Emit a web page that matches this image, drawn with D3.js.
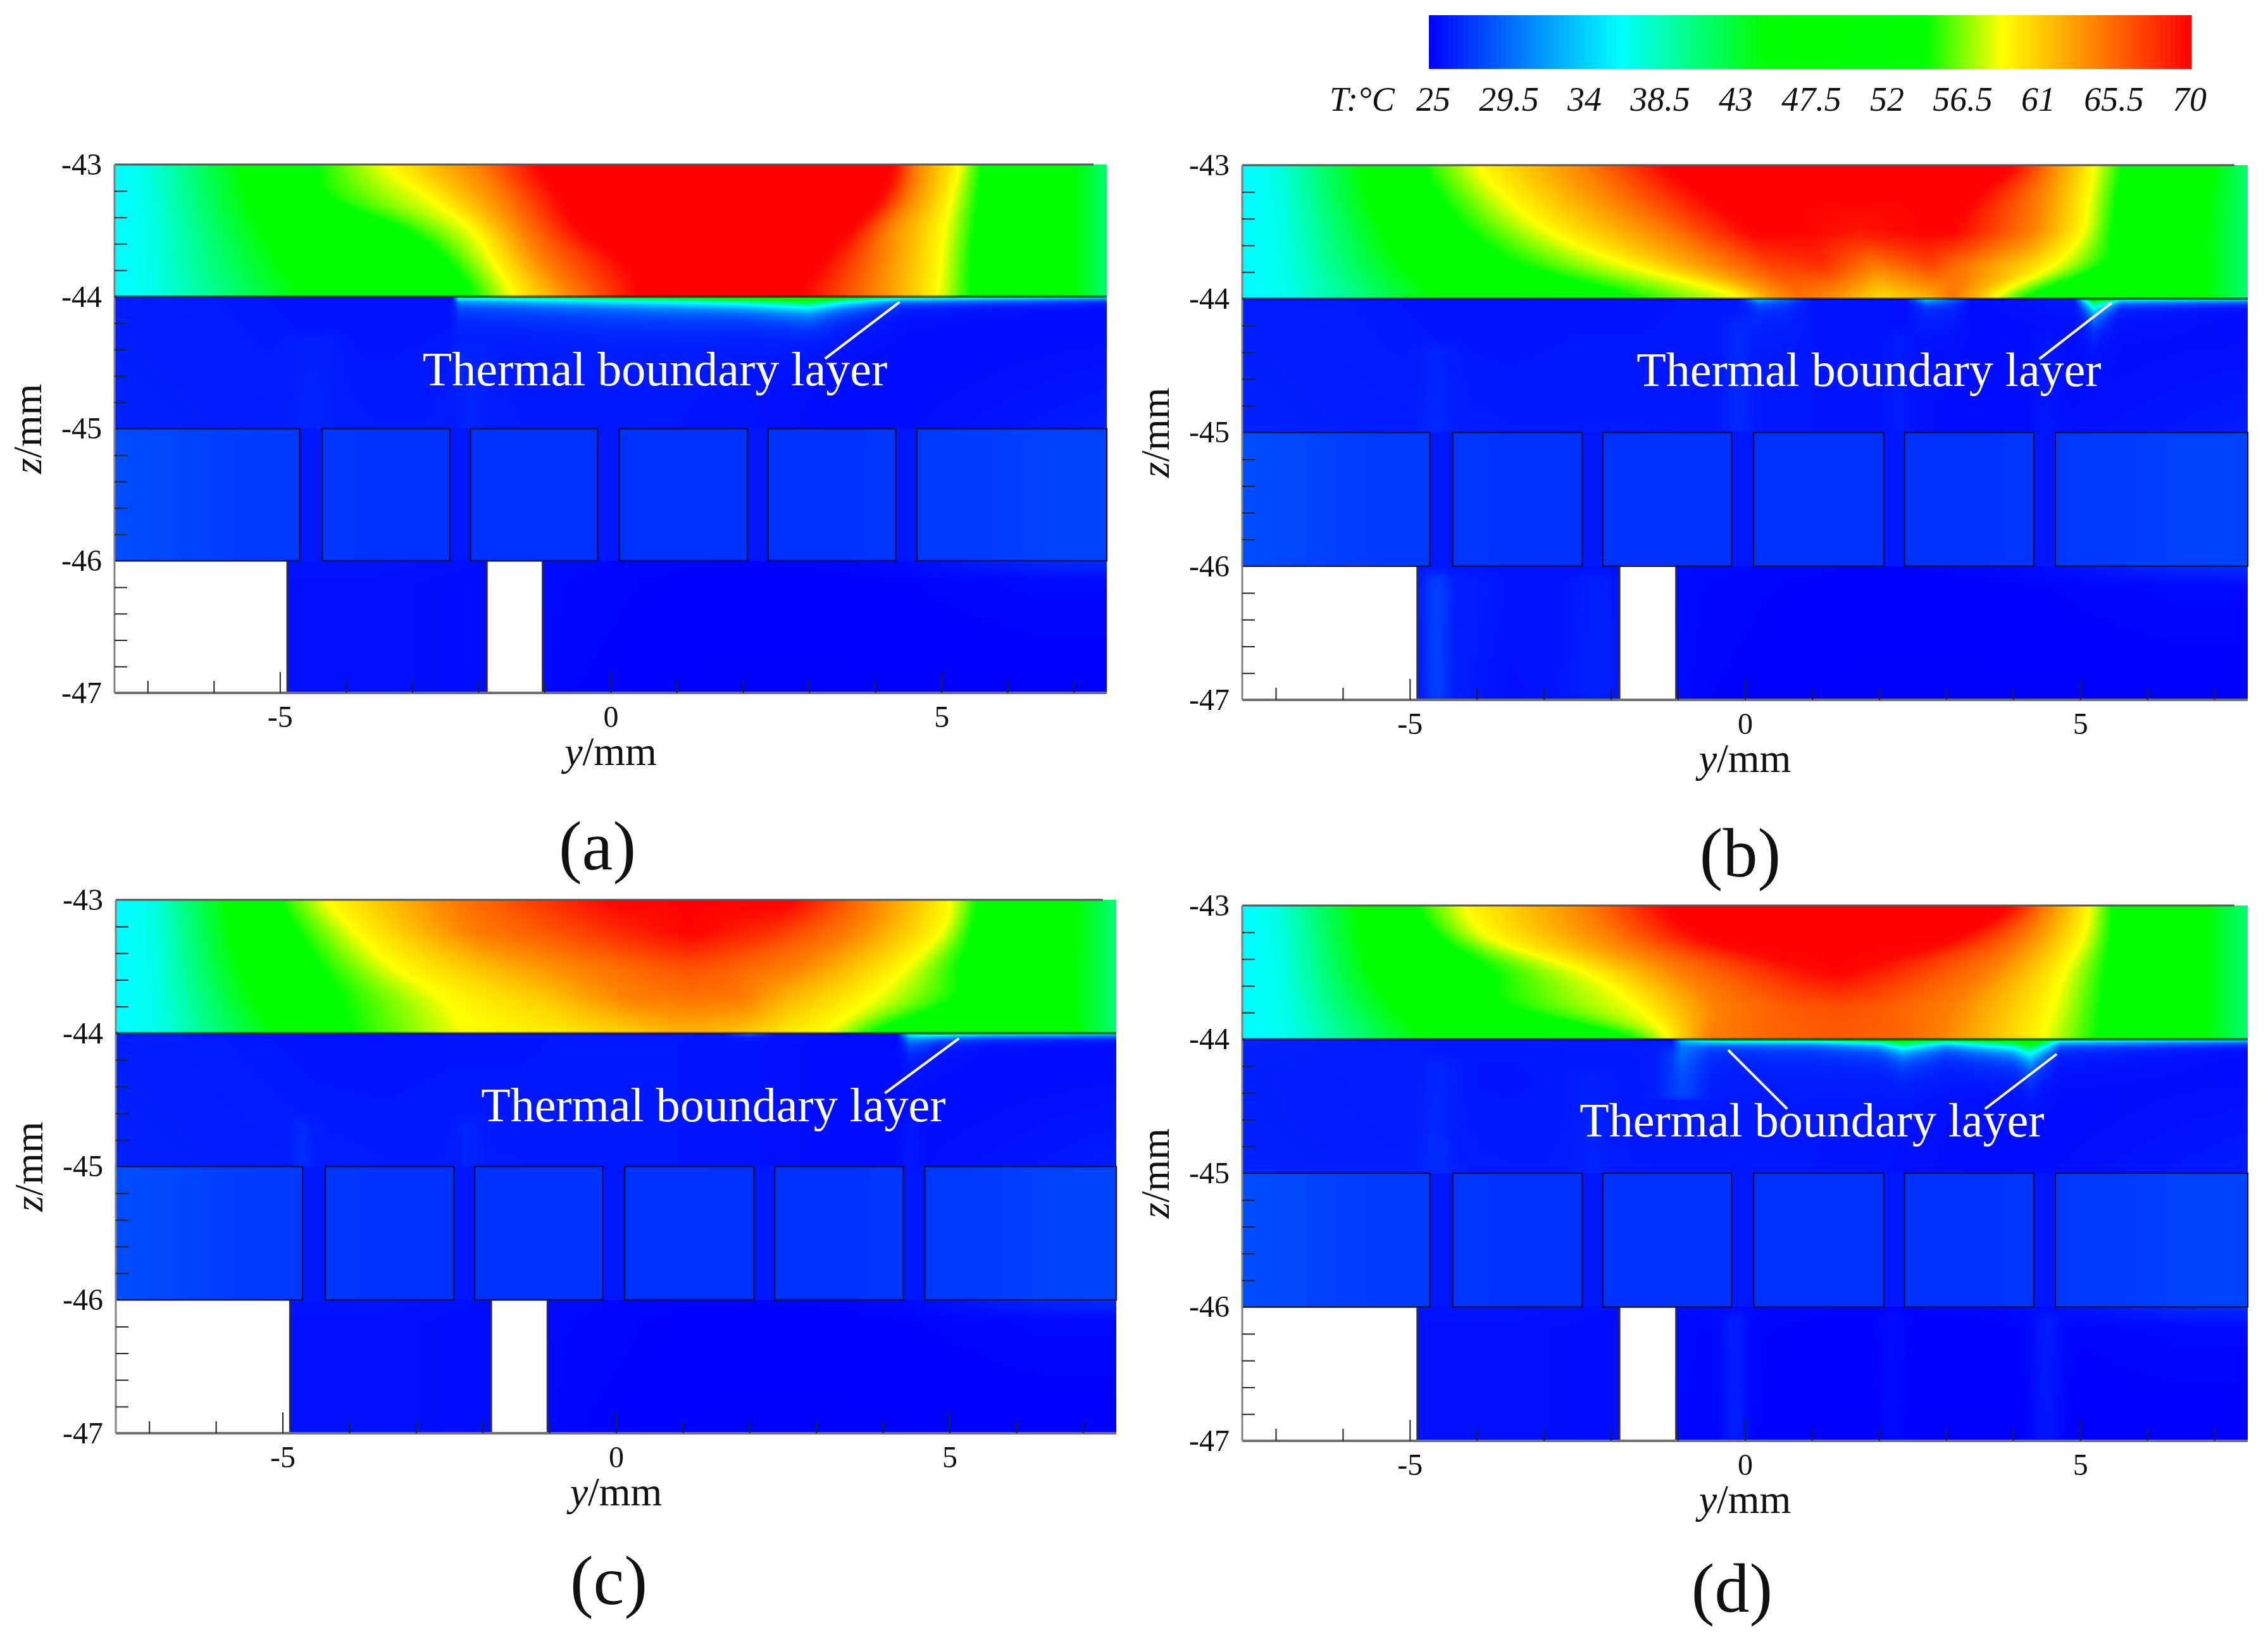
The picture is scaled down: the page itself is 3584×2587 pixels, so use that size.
<!DOCTYPE html>
<html><head><meta charset="utf-8">
<script src="https://cdn.jsdelivr.net/npm/d3@7/dist/d3.min.js"></script>
<style>
html,body{margin:0;padding:0;background:#fff}
canvas,svg{position:absolute;left:0;top:0}
text{font-family:"Liberation Serif",serif;fill:#111}
</style></head><body>
<canvas id="field" width="3584" height="2587"></canvas>
<svg id="chart" width="3584" height="2587"></svg>
<script>
// ---------- values ----------
const legendTicks = [25,29.5,34,38.5,43,47.5,52,56.5,61,65.5,70];
const colorStops  = [25,36.25,44.8,54.25,58.75,70];
const colorValues = ["#0000ff","#00ffff","#00ff00","#00ff00","#ffff00","#ff0000"];
const airRowsZ = [-43,-43.25,-43.5,-43.75,-44];
const yMajor = [-5,0,5];
const yMinor = [-7,-6,-4,-3,-2,-1,1,2,3,4,6,7];
const zMajor = [-43,-44,-45,-46,-47];
const ribEdges = [[-7.5,-4.7],[-4.36,-2.43],[-2.12,-0.2],[0.13,2.07],[2.38,4.31],[4.63,7.5]];
const voids = [[-7.5,-4.89],[-1.87,-1.03]];

// isotherm positions (mm) and temperature on each z row of the upper region
const aIsoY = [
[-7.5,-7.03,-5.6,-4.45,-3.41,-1.98,-1.1,1.21,4.29,4.62,5.27,5.6,7.03,7.5],
[-7.5,-6.98,-5.49,-4.29,-2.75,-1.65,-.77,1.21,4.07,4.51,5.16,5.55,7.03,7.5],
[-7.5,-6.92,-5.27,-3.08,-2.09,-1.32,-.44,1.21,3.63,4.18,5.05,5.49,7.03,7.5],
[-7.5,-6.9,-5,-2.42,-1.76,-.99,.22,1.21,3.19,4.07,5,5.44,7.03,7.5],
[-7.5,-6.87,-4.67,-2.09,-1.48,-.55,.44,1.21,2.86,3.96,4.95,5.44,7.03,7.5]];
const aIsoT = [
[36,37,44.8,54.25,58.75,64.4,70,70,70,64.4,58.75,54.25,44.8,41],
[36,37,44.8,54.25,58.75,64.4,70,70,70,64.4,58.75,54.25,44.8,41],
[36,37,44.8,54.25,58.75,64.4,70,70,70,64.4,58.75,54.25,44.8,41],
[36,37,44.8,54.25,58.75,64.4,70,70,70,64.4,58.75,54.25,44.8,41],
[36,37,44.8,54.25,58.75,64.4,70,70,70,64.4,58.75,54.25,44.8,41]];
const bIsoY = [
[-7.5,-7,-5.71,-4.8,-3.99,-2.38,-1.19,.63,1.71,2.78,4.02,4.56,5.2,5.63,6.98,7.5],
[-7.5,-6.95,-5.6,-4.53,-3.56,-1.95,-.55,.63,1.71,2.78,3.43,4.4,5.13,5.53,6.92,7.5],
[-7.5,-6.89,-5.39,-4.1,-2.91,-1.19,.1,.85,1.71,2.68,3.11,4.29,5.04,5.47,6.87,7.5],
[-7.5,-6.84,-5.12,-3.34,-1.73,-.33,.42,1.17,1.92,2.78,3.32,4.13,4.61,5.31,6.87,7.5],
[-7.5,-6.73,-4.63,-1.62,-.01,.42,.85,1.39,2.03,2.78,3.05,3.43,3.7,4.13,6.87,7.5]];
const bIsoT = [
[36,37,44.8,54.25,58.75,64.4,70,70,70,70,70,64.4,58.75,54.25,44.8,41],
[36,37,44.8,54.25,58.75,64.4,70,70,70,70,70,64.4,58.75,54.25,44.8,41],
[36,37,44.8,54.25,58.75,64.4,70,70,69,70,70,64.4,58.75,54.25,44.8,41],
[36,37,44.8,54.25,58.75,64.4,67,68,64.5,67,64.4,61,58.75,54.25,44.8,41],
[36,37,44.8,54.25,58.75,63,65,63,60,62,65,62,58.75,54.25,44.8,41]];
const cIsoY = [
[-7.5,-6.95,-5.86,-5.04,-4.34,-2.48,-1.39,.02,1.11,2.64,3.83,5.03,5.41,6.88,7.5],
[-7.5,-6.93,-5.77,-4.77,-3.9,-2.16,-1.07,.02,1.11,2.2,3.51,4.87,5.31,6.88,7.5],
[-7.5,-6.9,-5.64,-4.44,-3.36,-1.61,-.52,.57,1.11,1.66,2.75,4.38,5.14,6.88,7.5],
[-7.5,-6.86,-5.42,-4.12,-2.59,-1.07,.24,.78,1.11,1.87,2.53,3.83,5.03,6.88,7.5],
[-7.5,-6.82,-5.15,-4.01,-2.27,-.96,.35,.89,1.33,1.98,2.64,3.18,3.83,6.88,7.5]];
const cIsoT = [
[36,37,44.8,54.25,58.75,64.4,67,70,70,70,64.4,58.75,54.25,44.8,41],
[36,37,44.8,54.25,58.75,64.4,66,68,70,68,64.4,58.75,54.25,44.8,41],
[36,37,44.8,54.25,58.75,62.5,64.4,66,66.5,66,64.4,58.75,54.25,44.8,41],
[36,37,44.8,54.25,58.75,61,64.4,64.6,64.8,64.6,62,58.75,54.25,44.8,41],
[36,37,44.8,54.25,58.75,59.5,61,62,62,61,59.5,58.75,54.25,44.8,41]];
const dIsoY = [
[-7.5,-7,-5.82,-4.9,-4.2,-2.38,-1.19,1.17,3.97,4.51,5.15,5.47,6.87,7.5],
[-7.5,-6.95,-5.73,-4.53,-3.77,-1.95,-.55,1.17,3.11,4.18,5.04,5.45,6.87,7.5],
[-7.5,-6.89,-5.6,-3.77,-2.38,-.98,.96,1.39,1.71,3.65,4.77,5.37,6.87,7.5],
[-7.5,-6.84,-5.28,-3.56,-1.62,-.44,.63,1.39,2.03,3.11,4.61,5.31,6.87,7.5],
[-7.5,-6.73,-4.8,-1.57,-1.14,-.55,.42,1.39,2.35,2.89,4.45,5.26,6.87,7.5]];
const dIsoT = [
[36,37,44.8,54.25,58.75,64.4,70,70,70,64.4,58.75,54.25,44.8,41],
[36,37,44.8,54.25,58.75,64.4,70,70,70,64.4,58.75,54.25,44.8,41],
[36,37,44.8,54.25,58.75,64.4,69.5,70,69.5,64.4,58.75,54.25,44.8,41],
[36,37,44.8,54.25,58.75,64.4,66,66.5,66,64.4,58.75,54.25,44.8,41],
[36,37,44.8,54.25,58.75,64.4,65.5,66,65.5,64.4,58.75,54.25,44.8,41]];

// lower region: temperature at y = -7.5, -6.5 ... 7.5
const lowerY     = [-7.5,-6.5,-5.5,-4.5,-3.5,-2.5,-1.5,-.5,.5,1.5,2.5,3.5,4.5,5.5,6.5,7.5];
const airTop     = [26.3,26.2,26,25.8,25.8,25.9,25.9,26,26,25.9,25.7,25.5,25.4,25.3,25.3,25.3];
const airBottom  = [26.5,26.4,26.3,26.2,26.1,26.1,26.1,26,26,25.9,25.7,25.5,25.6,25.8,26,26.2];
const ribT       = [28.4,28,27.6,27.4,27.2,27.2,27.2,27.2,27.2,27.2,27.2,27.2,27.4,27.6,27.9,28];
const gapT       = [26,26,26,26,26,26,26,26,26,26,26,26,26,26,26,26];
const baseTop    = [25.8,25.8,25.9,25.9,25.9,25.7,25.6,25.4,25.3,25.2,25.2,25.3,25.5,26.2,26.8,27];
const baseMid    = [25.7,25.7,25.7,25.7,25.7,25.6,25.5,25.3,25.2,25.1,25.1,25.1,25.2,25.3,25.4,25.4];
const baseBottom = [25.7,25.7,25.7,25.7,25.7,25.6,25.5,25.2,25.1,25,25,25,25,25,25,25];
const baseMidB   = [25.7,25.7,25.7,26.4,25.9,25.9,25.6,25.3,25.2,25.1,25.1,25.1,25.2,25.3,25.4,25.4];
const baseBottomB= [25.7,25.7,25.7,26.3,25.7,26,25.6,25.2,25.1,25,25,25,25,25,25,25];

// thermal boundary layer under z = -44: wall temperature and e-folding depth
const aLayerY = [-7.5,-2.4,-2.3,0,1,2,3,3.5,4.4,7.5];
const aLayerT = [26,26,40,46,48,52,54,50,44,40];
const aLayerD = [.01,.01,.035,.04,.045,.05,.07,.05,.03,.022];
const aHaloT  = [26,26,29,31,31.5,31.5,32,30,27,26];
const bLayerY = [-7.5,-.1,.2,.6,1,2.4,2.7,3.1,3.4,4.9,5.2,5.6,7.5];
const bLayerT = [26,26,36,31,26,26,38,31,26,26,48,42,40];
const bLayerD = [.01,.01,.025,.025,.01,.01,.025,.025,.01,.01,.08,.025,.022];
const bHaloT  = [26,26,28,27.5,26,26,28,27.5,26,27,31,27.5,26.2];
const cLayerY = [-7.5,1.6,2,2.4,4.2,4.4,4.8,5.5,7.5];
const cLayerT = [26,26,33,26,26,38,44,42,40];
const cLayerD = [.01,.01,.015,.01,.01,.05,.03,.025,.022];
const cHaloT  = [26,26,26,26,26,29,27.5,26.5,26];
const dLayerY = [-7.5,-1.1,-.95,-.5,0,1,2,2.35,3,4,4.26,4.7,7.5];
const dLayerT = [26,26,35,44,46,46,48,50,46,50,52,42,40];
const dLayerD = [.01,.01,.035,.025,.025,.025,.035,.06,.035,.06,.1,.03,.022];
const dHaloT  = [26.3,26.3,30,28,28,28.5,30,32.5,30,32,33.5,28,26.2];
const haloDepth = 0.15;

// faint vertical streaks: [y, half width, z top, z bottom, extra T]
const aStreaks = [[-4.5,.25,-44.25,-45,.5],[-2.1,.2,-44.3,-45,.5]];
const bStreaks = [[-4.6,.14,-46,-47,1.4],[-2.2,.2,-46,-47,.6],[-4.6,.18,-44.3,-45,.6],[-.1,.14,-44.1,-45,.8],[2.3,.14,-44.2,-45,.4],[4.5,.14,-44.2,-45,.4]];
const cStreaks = [[-4.7,.12,-44.6,-45,.7],[-2.2,.12,-44.6,-45,.6],[4.4,.1,-44.6,-45,.5]];
const dStreaks = [[-.95,.22,-44.02,-44.45,1.8],[-4.6,.2,-44.1,-45,.7],[-2.3,.2,-44.2,-45,.5],[-.15,.14,-46,-47,1],[2.2,.14,-46,-47,.4],[4.5,.16,-46,-47,.9]];

// annotation anchors in axis units [y, z]
const annotationText = "Thermal boundary layer";
const aLeaders = [[[3.24,-44.47],[4.37,-44.04]]], aLabel = [.67,-44.67];
const bLeaders = [[[4.39,-44.45],[5.47,-44.03]]], bLabel = [1.85,-44.65];
const cLeaders = [[[4.03,-44.45],[5.14,-44.04]]], cLabel = [1.46,-44.66];
const dLeaders = [[[3.58,-44.52],[4.65,-44.11]],[[.63,-44.52],[-.25,-44.08]]], dLabel = [1,-44.726];

// ---------- layout ----------
const panels = [
 {name:"(a)",x0:181,x1:1749,y0:260,y1:1095,lx:944,ly:1374,isoY:aIsoY,isoT:aIsoT,layerY:aLayerY,layerT:aLayerT,layerD:aLayerD,haloT:aHaloT,streaks:aStreaks,leaders:aLeaders,label:aLabel,mid:baseMid,bot:baseBottom},
 {name:"(b)",x0:1963,x1:3552,y0:261,y1:1106,lx:2750,ly:1385,isoY:bIsoY,isoT:bIsoT,layerY:bLayerY,layerT:bLayerT,layerD:bLayerD,haloT:bHaloT,streaks:bStreaks,leaders:bLeaders,label:bLabel,mid:baseMidB,bot:baseBottomB},
 {name:"(c)",x0:183,x1:1764,y0:1422,y1:2265,lx:962,ly:2535,isoY:cIsoY,isoT:cIsoT,layerY:cLayerY,layerT:cLayerT,layerD:cLayerD,haloT:cHaloT,streaks:cStreaks,leaders:cLeaders,label:cLabel,mid:baseMid,bot:baseBottom},
 {name:"(d)",x0:1963,x1:3552,y0:1431,y1:2277,lx:2737,ly:2547,isoY:dIsoY,isoT:dIsoT,layerY:dLayerY,layerT:dLayerT,layerD:dLayerD,haloT:dHaloT,streaks:dStreaks,leaders:dLeaders,label:dLabel,mid:baseMid,bot:baseBottom}
];

const color = d3.scaleLinear().domain(colorStops).range(colorValues).clamp(true);
const LUT_N = 2048, lut = new Uint8Array(LUT_N*3);
for(let i=0;i<LUT_N;i++){
  const c = d3.rgb(color(25+45*i/(LUT_N-1)));
  lut[3*i]=c.r; lut[3*i+1]=c.g; lut[3*i+2]=c.b;
}
const ctx = document.getElementById("field").getContext("2d");
ctx.fillStyle="#fff"; ctx.fillRect(0,0,3584,2587);

function catmull(p0,p1,p2,p3,t){
  return 0.5*((2*p1)+(-p0+p2)*t+(2*p0-5*p1+4*p2-p3)*t*t+(-p0+3*p1-3*p2+p3)*t*t*t);
}
const lerp=(a,b,t)=>a+(b-a)*t;

function paint(p){
  const xs = d3.scaleLinear().domain([-7.5,7.5]).range([p.x0,p.x1]);
  const zs = d3.scaleLinear().domain([-43,-47]).range([p.y0,p.y1]);
  const w = p.x1-p.x0, h = p.y1-p.y0;
  const img = ctx.createImageData(w,h), px = img.data;
  const yAt = new Float64Array(w), colI = new Int32Array(w), colF = new Float64Array(w);
  const lT=new Float64Array(w), lD=new Float64Array(w), hT=new Float64Array(w), rib=new Uint8Array(w);
  const fT=d3.scaleLinear().domain(p.layerY).range(p.layerT);
  const fD=d3.scaleLinear().domain(p.layerY).range(p.layerD);
  const fH=d3.scaleLinear().domain(p.layerY).range(p.haloT);
  for(let i=0;i<w;i++){
    const y=xs.invert(p.x0+i+.5); yAt[i]=y;
    let u=Math.max(0,Math.min(lowerY.length-1.001,y+7.5));
    colI[i]=Math.floor(u); colF[i]=u-colI[i];
    lT[i]=fT(y); lD[i]=fD(y); hT[i]=fH(y);
    rib[i]=ribEdges.some(e=>y>=e[0]&&y<=e[1])?1:0;
  }
  const put=(i,j,T)=>{
    const k=Math.max(0,Math.min(LUT_N-1,Math.round((T-25)/45*(LUT_N-1))));
    const o=4*(j*w+i);
    px[o]=lut[3*k];px[o+1]=lut[3*k+1];px[o+2]=lut[3*k+2];px[o+3]=255;
  };
  // upper region
  let hTop=0; while(hTop<h && zs.invert(p.y0+hTop+.5)>-44) hTop++;
  const upper=new Float64Array(w*hTop);
  for(let j=0;j<hTop;j++){
    const z=zs.invert(p.y0+j+.5);
    const r=Math.min(3.9999,(-43-z)/0.25), r1=Math.floor(r), t=r-r1, n=airRowsZ.length-1;
    const a0=p.isoY[Math.max(0,r1-1)],a1=p.isoY[r1],a2=p.isoY[r1+1],a3=p.isoY[Math.min(n,r1+2)];
    const t1=p.isoT[r1],t2=p.isoT[r1+1];
    const K=a1.length, ky=new Float64Array(K), kt=new Float64Array(K);
    for(let k=0;k<K;k++){
      ky[k]=catmull(a0[k],a1[k],a2[k],a3[k],t);
      if(k>0&&ky[k]<ky[k-1]+.001) ky[k]=ky[k-1]+.001;
      kt[k]=lerp(t1[k],t2[k],t);
    }
    let k=0;
    for(let i=0;i<w;i++){
      const y=yAt[i];
      while(k<K-2&&y>ky[k+1])k++;
      const f=Math.max(0,Math.min(1,(y-ky[k])/(ky[k+1]-ky[k])));
      upper[j*w+i]=lerp(kt[k],kt[k+1],f);
    }
  }
  if(d3.blur2) d3.blur2({data:upper,width:w,height:hTop},5);
  for(let j=0;j<hTop;j++) for(let i=0;i<w;i++) put(i,j,upper[j*w+i]);
  // lower region
  const streak=new Float64Array(w);
  for(let j=hTop;j<h;j++){
    const z=zs.invert(p.y0+j+.5), d=-44-z;
    streak.fill(0);
    p.streaks.forEach(s=>{
      if(z<=s[2]&&z>=s[3]){
        const fade=Math.min(1,(s[2]-z)/.1,(z-s[3])/.1+.6);
        for(let i=0;i<w;i++){const q=(yAt[i]-s[0])/s[1]; if(Math.abs(q)<3) streak[i]+=s[4]*fade*Math.exp(-q*q/2);}
      }
    });
    for(let i=0;i<w;i++){
      const c=colI[i],f=colF[i];
      const at=a=>lerp(a[c],a[c+1],f);
      let T;
      if(z>-45){
        T=lerp(at(airTop),at(airBottom),d)+streak[i];
        T=Math.max(T,T+(hT[i]-26)*Math.exp(-d/haloDepth));
        T=Math.max(T,T+Math.max(0,lT[i]-T)*Math.exp(-d/lD[i]));
      }
      else if(z>-46){ T= rib[i]?at(ribT):at(gapT); }
      else if(z>-46.15){ T=lerp(at(baseTop),at(p.mid),(-46-z)/.15)+streak[i]; }
      else { T=lerp(at(p.mid),at(p.bot),(-46.15-z)/.85)+streak[i]; }
      put(i,j,T);
    }
  }
  ctx.putImageData(img,p.x0,p.y0);
}

const svg = d3.select("#chart");

panels.forEach(p=>{
  paint(p);
  const xs = d3.scaleLinear().domain([-7.5,7.5]).range([p.x0,p.x1]);
  const zs = d3.scaleLinear().domain([-43,-47]).range([p.y0,p.y1]);
  const g = svg.append("g");

  g.selectAll("rect.void").data(voids).join("rect").attr("class","void")
    .attr("x",d=>xs(d[0])).attr("width",d=>xs(d[1])-xs(d[0]))
    .attr("y",zs(-46)).attr("height",zs(-47)-zs(-46)).attr("fill","#fff");
  g.selectAll("line.vl").data(voids.flat().filter(v=>v>-7.5)).join("line").attr("class","vl")
    .attr("x1",d=>xs(d)).attr("x2",d=>xs(d)).attr("y1",zs(-46)).attr("y2",zs(-47))
    .attr("stroke","#333").attr("stroke-width",2.5);
  g.selectAll("line.vt").data(voids).join("line").attr("class","vt")
    .attr("x1",d=>xs(d[0])).attr("x2",d=>xs(d[1])).attr("y1",zs(-46)).attr("y2",zs(-46))
    .attr("stroke","#777").attr("stroke-width",2.5);

  g.selectAll("rect.rib").data(ribEdges).join("rect").attr("class","rib")
    .attr("x",d=>xs(d[0])).attr("width",d=>xs(d[1])-xs(d[0]))
    .attr("y",zs(-45)).attr("height",zs(-46)-zs(-45))
    .attr("fill","none").attr("stroke","#0a0f3a").attr("stroke-width",2.2);

  const frame=[[-7.5,-43,7.3,-43,"#555",1,3],[-7.5,-47,7.5,-47,"#707070",1,4],[-7.5,-43,-7.5,-47,"#808080",1,3],[-7.5,-44,7.5,-44,"#000",.55,4]];
  g.selectAll("line.fr").data(frame).join("line").attr("class","fr")
    .attr("x1",d=>xs(d[0])).attr("y1",d=>zs(d[1])).attr("x2",d=>xs(d[2])).attr("y2",d=>zs(d[3]))
    .attr("stroke",d=>d[4]).attr("stroke-opacity",d=>d[5]).attr("stroke-width",d=>d[6]);

  const xMaj=g.append("g").attr("transform",`translate(0,${p.y1})`)
    .call(d3.axisBottom(xs).tickValues(yMajor).tickSize(-33).tickPadding(20).tickFormat(String));
  const xMin=g.append("g").attr("transform",`translate(0,${p.y1})`)
    .call(d3.axisBottom(xs).tickValues(yMinor).tickSize(-19).tickFormat(""));
  const zMaj=g.append("g").attr("transform",`translate(${p.x0},0)`)
    .call(d3.axisLeft(zs).tickValues(zMajor).tickSize(0).tickPadding(20).tickFormat(String));
  const zMin=g.append("g").attr("transform",`translate(${p.x0},0)`)
    .call(d3.axisLeft(zs).tickValues(d3.range(-43,-47.01,-.2).filter(v=>Math.abs(v-Math.round(v))>.01)).tickSize(-20).tickFormat(""));
  [xMaj,xMin,zMaj,zMin].forEach(a=>{
    a.select(".domain").remove();
    a.selectAll("line").attr("stroke","#222").attr("stroke-width",2);
    a.attr("font-family",null).attr("font-size",null);
    a.selectAll("text").style("font-family",'"Liberation Serif",serif').style("font-size","48px").attr("fill","#111");
  });

  const xt=g.append("text").attr("x",xs(0)).attr("y",p.y1+114).attr("text-anchor","middle").style("font-size","64px");
  xt.append("tspan").attr("font-style","italic").text("y");
  xt.append("tspan").text("/mm");
  const zt=g.append("text").attr("transform",`translate(${p.x0-116},${(p.y0+p.y1)/2}) rotate(-90)`).attr("text-anchor","middle").style("font-size","64px");
  zt.append("tspan").attr("font-style","italic").text("z");
  zt.append("tspan").text("/mm");

  g.selectAll("line.lead").data(p.leaders).join("line").attr("class","lead")
    .attr("x1",d=>xs(d[0][0])).attr("y1",d=>zs(d[0][1])).attr("x2",d=>xs(d[1][0])).attr("y2",d=>zs(d[1][1]))
    .attr("stroke","#fff").attr("stroke-width",4);
  g.append("text").attr("x",xs(p.label[0])).attr("y",zs(p.label[1])).attr("text-anchor","middle")
    .style("font-size","76px").style("fill","#fff").text(annotationText);

  g.append("text").attr("x",p.lx).attr("y",p.ly).attr("text-anchor","middle").style("font-size","110px").text(p.name);
});

const barScale = d3.scaleLinear().domain([25,70]).range([2258,3463]);
const labelScale = d3.scaleLinear().domain([25,70]).range([2265,3460]);
const barSteps = d3.range(25,70,0.1);
const bar = svg.append("g");
bar.selectAll("rect").data(barSteps).join("rect")
  .attr("x",d=>barScale(d)).attr("width",d=>barScale(d+0.1)-barScale(d)+.6)
  .attr("y",24).attr("height",85).attr("fill",d=>color(d));
bar.selectAll("text.tick").data(legendTicks).join("text").attr("class","tick")
  .attr("x",d=>labelScale(d)).attr("y",175).attr("text-anchor","middle")
  .attr("font-style","italic").style("font-size","54px").text(d=>d);
bar.append("text").attr("x",2101).attr("y",175).attr("font-style","italic").style("font-size","54px").text("T:°C");
</script>
</body></html>
